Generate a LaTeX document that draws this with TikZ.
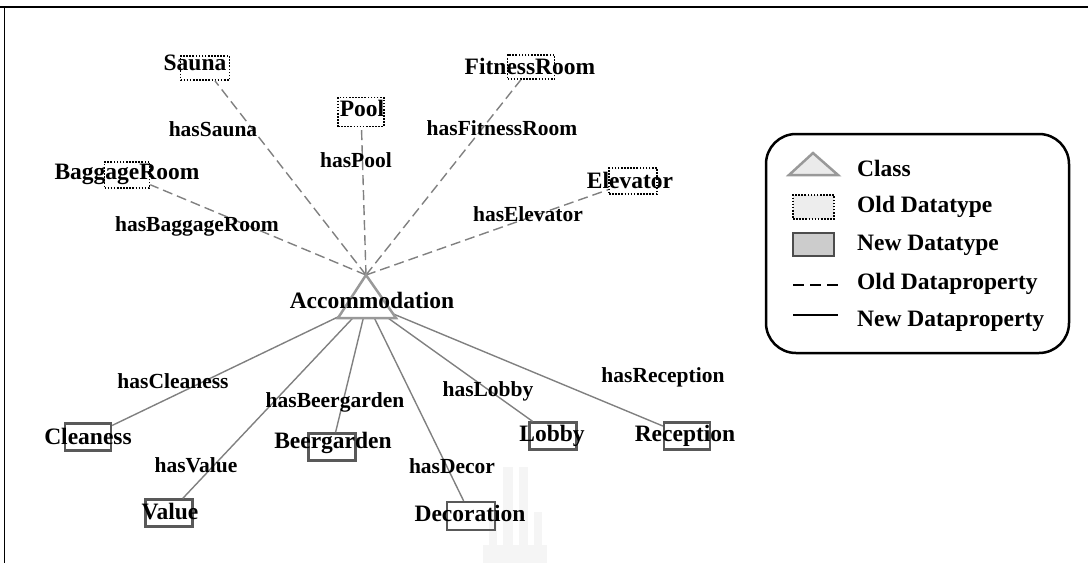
\documentclass[tikz,border=0pt]{standalone}
\usepackage{fontspec}
\setmainfont{Liberation Serif}
\begin{document}
\begin{tikzpicture}[x=1pt,y=-1pt,
  oldbox/.style={draw=black, line width=1.6pt, dash pattern=on 1.6pt off 1.5pt, inner sep=0pt},
  newbox/.style={draw=black!65, line width=2.3pt, inner sep=0pt},
  lbl/.style={font=\bfseries\fontsize{23.5}{25}\selectfont, inner sep=0pt, text=black},
  elbl/.style={font=\bfseries\fontsize{21.5}{23}\selectfont, inner sep=0pt, text=black},
  oldprop/.style={draw=black!50, line width=1.4pt, dash pattern=on 10pt off 5pt},
  newprop/.style={draw=black!50, line width=1.4pt},
  classtri/.style={draw=black!40, line width=2.5pt, fill=white, line join=miter},
  legtext/.style={font=\bfseries\fontsize{23.5}{25}\selectfont, anchor=west, inner sep=0pt, text=black}
]
\useasboundingbox (0,0) rectangle (1088,563);

% page frame (top and left rule)
\draw[line width=2.6pt] (0,7) -- (1088,7);
\draw[line width=1.4pt] (4.5,7) -- (4.5,563);

% faint watermark
\begin{scope}[fill=black!4]
  \fill (503,467) rectangle (513,545);
  \fill (519,467) rectangle (528,545);
  \fill (489,512) rectangle (497,545);
  \fill (534,512) rectangle (542,545);
  \fill (483,545) rectangle (547,563);
\end{scope}

% class node anchors
\coordinate (apex) at (366,275);
\coordinate (hub) at (367,303);
\coordinate (triL) at (338,318);
\coordinate (triR) at (396,318);

% old datatype boxes
\node[oldbox, minimum width=49pt, minimum height=24pt] (saunaBox) at (205,68) {};
\node[oldbox, minimum width=46pt, minimum height=29pt] (poolBox) at (361,112) {};
\node[oldbox, minimum width=47pt, minimum height=24pt] (fitBox) at (531,67) {};
\node[oldbox, minimum width=45pt, minimum height=26pt] (bagBox) at (127,175) {};
\node[oldbox, minimum width=48pt, minimum height=26pt] (elevBox) at (633,181) {};

% new datatype boxes
\node[newbox, minimum width=46pt, minimum height=27pt] (cleBox) at (88,437) {};
\node[newbox, minimum width=47pt, minimum height=27pt] (valBox) at (169,513) {};
\node[newbox, minimum width=47pt, minimum height=27pt] (beerBox) at (332,447) {};
\node[newbox, minimum width=48pt, minimum height=28pt] (decBox) at (471,516) {};
\node[newbox, minimum width=47pt, minimum height=27pt] (lobBox) at (553,436) {};
\node[newbox, minimum width=46pt, minimum height=27pt] (recBox) at (687,436) {};

% old data properties
\draw[oldprop] (apex) -- (saunaBox);
\draw[oldprop] (apex) -- (poolBox);
\draw[oldprop] (apex) -- (fitBox);
\draw[oldprop] (apex) -- (bagBox);
\draw[oldprop] (apex) -- (elevBox);

% new data properties
\draw[newprop] (hub) -- (cleBox);
\draw[newprop] (hub) -- (valBox);
\draw[newprop] (hub) -- (beerBox);
\draw[newprop] (hub) -- (decBox);
\draw[newprop] (hub) -- (lobBox);
\draw[newprop] (hub) -- (recBox);

% class symbol
\draw[classtri] (triL) -- (apex) -- (triR) -- cycle;

% node labels
\node[lbl] (accText) at (372,300) {Accommodation};
\node[lbl] (saunaText) at (195,63) {Sauna};
\node[lbl] (poolText) at (362,108) {Pool};
\node[lbl] (fitText) at (530,66) {FitnessRoom};
\node[lbl] (bagText) at (127,174) {BaggageRoom};
\node[lbl] (elevText) at (630,180) {Elevator};
\node[lbl] (cleText) at (88,436) {Cleaness};
\node[lbl] (valText) at (170,512) {Value};
\node[lbl] (beerText) at (333,443) {Beergarden};
\node[lbl] (decText) at (470,513) {Decoration};
\node[lbl] (lobText) at (552,436) {Lobby};
\node[lbl] (recText) at (685,436) {Reception};

% property labels
\node[elbl] (lSauna) at (213,129) {hasSauna};
\node[elbl] (lPool) at (356,160) {hasPool};
\node[elbl] (lFit) at (502,128) {hasFitnessRoom};
\node[elbl] (lBag) at (197,226) {hasBaggageRoom};
\node[elbl] (lElev) at (528,214) {hasElevator};
\node[elbl] (lCle) at (173,381) {hasCleaness};
\node[elbl] (lBeer) at (335,402) {hasBeergarden};
\node[elbl] (lVal) at (196,465) {hasValue};
\node[elbl] (lDec) at (452,466) {hasDecor};
\node[elbl] (lLob) at (488,391) {hasLobby};
\node[elbl] (lRec) at (663,377) {hasReception};

% legend
\node[draw, line width=2.5pt, rounded corners=30pt, minimum width=303pt, minimum height=219pt, inner sep=0pt] (legend) at (917.5,243.5) {};
\coordinate (kTriL) at (789,175);
\coordinate (kTriA) at (813,153);
\coordinate (kTriR) at (838,175);
\draw[draw=black!40, line width=2.5pt, fill=black!8, line join=miter] (kTriL) -- (kTriA) -- (kTriR) -- cycle;
\node[oldbox, fill=black!7, minimum width=41pt, minimum height=24pt] (kOld) at (813.5,207) {};
\node[draw=black!70, line width=2.5pt, fill=black!20, inner sep=0pt, minimum width=41pt, minimum height=23pt] (kNew) at (813.5,244.5) {};
\coordinate (kDa) at (793,285);
\coordinate (kDb) at (838,285);
\coordinate (kSa) at (793,315);
\coordinate (kSb) at (838,315);
\draw[black, line width=1.4pt, dash pattern=on 11pt off 6pt] (kDa) -- (kDb);
\draw[black, line width=1.4pt] (kSa) -- (kSb);
\node[legtext] (tClass) at (857,168) {Class};
\node[legtext] (tOld) at (857,207) {Old Datatype};
\node[legtext] (tNew) at (857,245) {New Datatype};
\node[legtext] (tOldP) at (857,284) {Old Dataproperty};
\node[legtext] (tNewP) at (857,321) {New Dataproperty};
\end{tikzpicture}
\end{document}
